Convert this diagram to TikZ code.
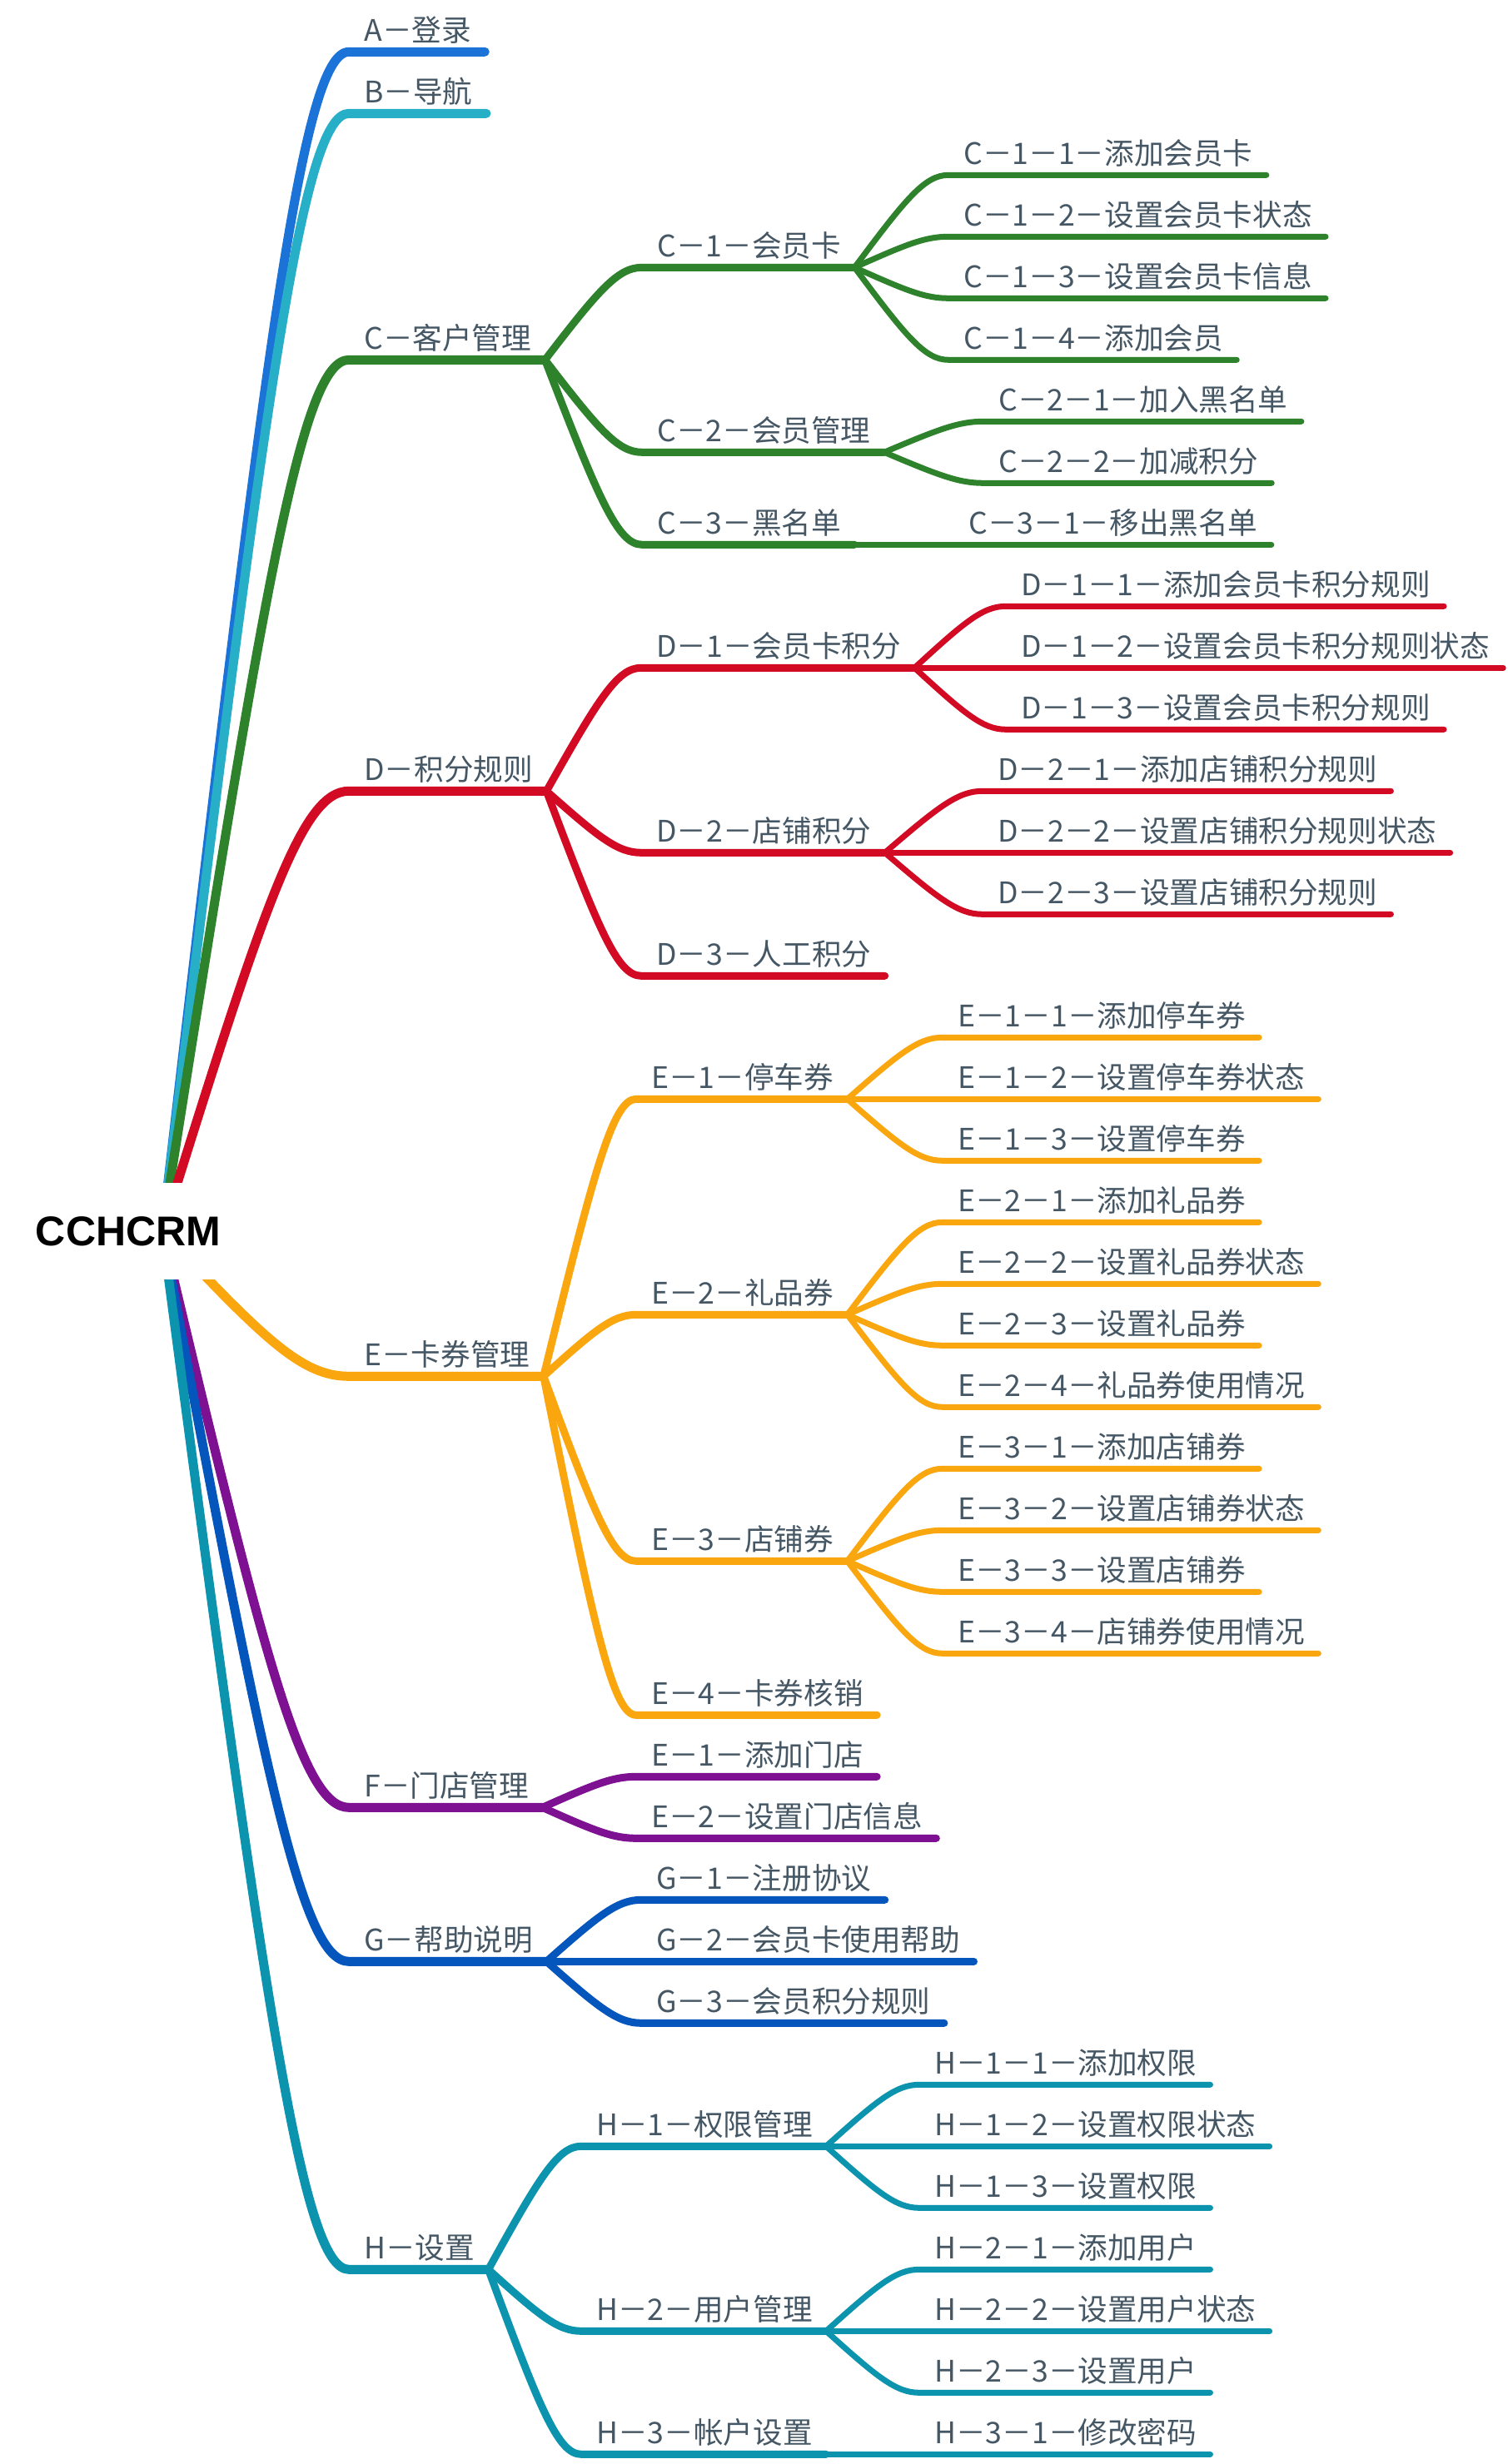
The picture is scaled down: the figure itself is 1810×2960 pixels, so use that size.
\documentclass[tikz,border=0pt]{standalone}
\usepackage{fontspec}
\newfontfamily\cjk{Noto Sans CJK SC}
\newfontfamily\rootfont{Liberation Sans}
\usetikzlibrary{calc}
\definecolor{cA}{HTML}{1B73D8}
\definecolor{cB}{HTML}{28AFC8}
\definecolor{cC}{HTML}{2E822C}
\definecolor{cD}{HTML}{D20A23}
\definecolor{cE}{HTML}{FAA70F}
\definecolor{cF}{HTML}{7E1092}
\definecolor{cG}{HTML}{0556BC}
\definecolor{cH}{HTML}{0C94AE}
\definecolor{txt}{HTML}{455764}
\tikzset{
  lbl/.style={font=\cjk\fontsize{17.8}{20}\selectfont, text=txt, inner sep=0pt, anchor=base west},
  lvA/.style={line width=5.5pt},
  lvB/.style={line width=4.5pt},
  lvC/.style={line width=3.5pt},
  branch/.style={line cap=round, line join=round}
}
% #1 name, #2 parent end, #3 corner x, #4 row, #5 text, #6 colour, #7 level style
\newcommand\mmbranch[7]{%
  \coordinate (#1-c) at (#3,{62.3+74*#4});
  \node[lbl] (#1) at ({#3+18},{62.3+74*#4-13}) {#5};
  \path let \p1=(#1.base east), \p2=(#1-c) in (\x1+8pt,\y2) coordinate (#1-e);
  \draw[branch, #6, #7] let \p1=(#2), \p2=(#1-c) in
    (\p1) .. controls ({\x1+0.55*(\x2-\x1)},{\y1+0.75*(\y2-\y1)}) and ({\x1+0.75*(\x2-\x1)},\y2) .. (\p2) -- (#1-e);
}
\begin{document}
\begin{tikzpicture}[x=0.5pt,y=-0.5pt]
\useasboundingbox[fill=white] (0,0) rectangle (1810,2960);
\coordinate (root-c) at (195,1479);
% level 1
\mmbranch{A}{root-c}{419}{0}{A－登录}{cA}{lvA}
\mmbranch{B}{root-c}{419}{1}{B－导航}{cB}{lvA}
\mmbranch{C}{root-c}{419}{5}{C－客户管理}{cC}{lvA}
\mmbranch{D}{root-c}{419}{12}{D－积分规则}{cD}{lvA}
\mmbranch{E}{root-c}{419}{21.5}{E－卡券管理}{cE}{lvA}
\mmbranch{F}{root-c}{419}{28.5}{F－门店管理}{cF}{lvA}
\mmbranch{G}{root-c}{419}{31}{G－帮助说明}{cG}{lvA}
\mmbranch{H}{root-c}{419}{36}{H－设置}{cH}{lvA}
% C
\mmbranch{C1}{C-e}{771}{3.5}{C－1－会员卡}{cC}{lvB}
\mmbranch{C2}{C-e}{771}{6.5}{C－2－会员管理}{cC}{lvB}
\mmbranch{C3}{C-e}{771}{8}{C－3－黑名单}{cC}{lvB}
\mmbranch{C11}{C1-e}{1139}{2}{C－1－1－添加会员卡}{cC}{lvC}
\mmbranch{C12}{C1-e}{1139}{3}{C－1－2－设置会员卡状态}{cC}{lvC}
\mmbranch{C13}{C1-e}{1139}{4}{C－1－3－设置会员卡信息}{cC}{lvC}
\mmbranch{C14}{C1-e}{1139}{5}{C－1－4－添加会员}{cC}{lvC}
\mmbranch{C21}{C2-e}{1181}{6}{C－2－1－加入黑名单}{cC}{lvC}
\mmbranch{C22}{C2-e}{1181}{7}{C－2－2－加减积分}{cC}{lvC}
\mmbranch{C31}{C3-e}{1145}{8}{C－3－1－移出黑名单}{cC}{lvC}
% D
\mmbranch{D1}{D-e}{770}{10}{D－1－会员卡积分}{cD}{lvB}
\mmbranch{D2}{D-e}{770}{13}{D－2－店铺积分}{cD}{lvB}
\mmbranch{D3}{D-e}{770}{15}{D－3－人工积分}{cD}{lvB}
\mmbranch{D11}{D1-e}{1208}{9}{D－1－1－添加会员卡积分规则}{cD}{lvC}
\mmbranch{D12}{D1-e}{1208}{10}{D－1－2－设置会员卡积分规则状态}{cD}{lvC}
\mmbranch{D13}{D1-e}{1208}{11}{D－1－3－设置会员卡积分规则}{cD}{lvC}
\mmbranch{D21}{D2-e}{1180}{12}{D－2－1－添加店铺积分规则}{cD}{lvC}
\mmbranch{D22}{D2-e}{1180}{13}{D－2－2－设置店铺积分规则状态}{cD}{lvC}
\mmbranch{D23}{D2-e}{1180}{14}{D－2－3－设置店铺积分规则}{cD}{lvC}
% E
\mmbranch{E1}{E-e}{764}{17}{E－1－停车券}{cE}{lvB}
\mmbranch{E2}{E-e}{764}{20.5}{E－2－礼品券}{cE}{lvB}
\mmbranch{E3}{E-e}{764}{24.5}{E－3－店铺券}{cE}{lvB}
\mmbranch{E4}{E-e}{764}{27}{E－4－卡券核销}{cE}{lvB}
\mmbranch{E11}{E1-e}{1132}{16}{E－1－1－添加停车券}{cE}{lvC}
\mmbranch{E12}{E1-e}{1132}{17}{E－1－2－设置停车券状态}{cE}{lvC}
\mmbranch{E13}{E1-e}{1132}{18}{E－1－3－设置停车券}{cE}{lvC}
\mmbranch{E21}{E2-e}{1132}{19}{E－2－1－添加礼品券}{cE}{lvC}
\mmbranch{E22}{E2-e}{1132}{20}{E－2－2－设置礼品券状态}{cE}{lvC}
\mmbranch{E23}{E2-e}{1132}{21}{E－2－3－设置礼品券}{cE}{lvC}
\mmbranch{E24}{E2-e}{1132}{22}{E－2－4－礼品券使用情况}{cE}{lvC}
\mmbranch{E31}{E3-e}{1132}{23}{E－3－1－添加店铺券}{cE}{lvC}
\mmbranch{E32}{E3-e}{1132}{24}{E－3－2－设置店铺券状态}{cE}{lvC}
\mmbranch{E33}{E3-e}{1132}{25}{E－3－3－设置店铺券}{cE}{lvC}
\mmbranch{E34}{E3-e}{1132}{26}{E－3－4－店铺券使用情况}{cE}{lvC}
% F
\mmbranch{F1}{F-e}{764}{28}{E－1－添加门店}{cF}{lvB}
\mmbranch{F2}{F-e}{764}{29}{E－2－设置门店信息}{cF}{lvB}
% G
\mmbranch{G1}{G-e}{770}{30}{G－1－注册协议}{cG}{lvB}
\mmbranch{G2}{G-e}{770}{31}{G－2－会员卡使用帮助}{cG}{lvB}
\mmbranch{G3}{G-e}{770}{32}{G－3－会员积分规则}{cG}{lvB}
% H
\mmbranch{H1}{H-e}{698}{34}{H－1－权限管理}{cH}{lvB}
\mmbranch{H2}{H-e}{698}{37}{H－2－用户管理}{cH}{lvB}
\mmbranch{H3}{H-e}{698}{39}{H－3－帐户设置}{cH}{lvB}
\mmbranch{H11}{H1-e}{1104}{33}{H－1－1－添加权限}{cH}{lvC}
\mmbranch{H12}{H1-e}{1104}{34}{H－1－2－设置权限状态}{cH}{lvC}
\mmbranch{H13}{H1-e}{1104}{35}{H－1－3－设置权限}{cH}{lvC}
\mmbranch{H21}{H2-e}{1104}{36}{H－2－1－添加用户}{cH}{lvC}
\mmbranch{H22}{H2-e}{1104}{37}{H－2－2－设置用户状态}{cH}{lvC}
\mmbranch{H23}{H2-e}{1104}{38}{H－2－3－设置用户}{cH}{lvC}
\mmbranch{H31}{H3-e}{1104}{39}{H－3－1－修改密码}{cH}{lvC}
% root
\node[fill=white, inner sep=0pt, minimum width=140pt, minimum height=58pt,
      font=\rootfont\bfseries\fontsize{25}{28}\selectfont] (root) at (154,1479) {CCHCRM};
\end{tikzpicture}
\end{document}
